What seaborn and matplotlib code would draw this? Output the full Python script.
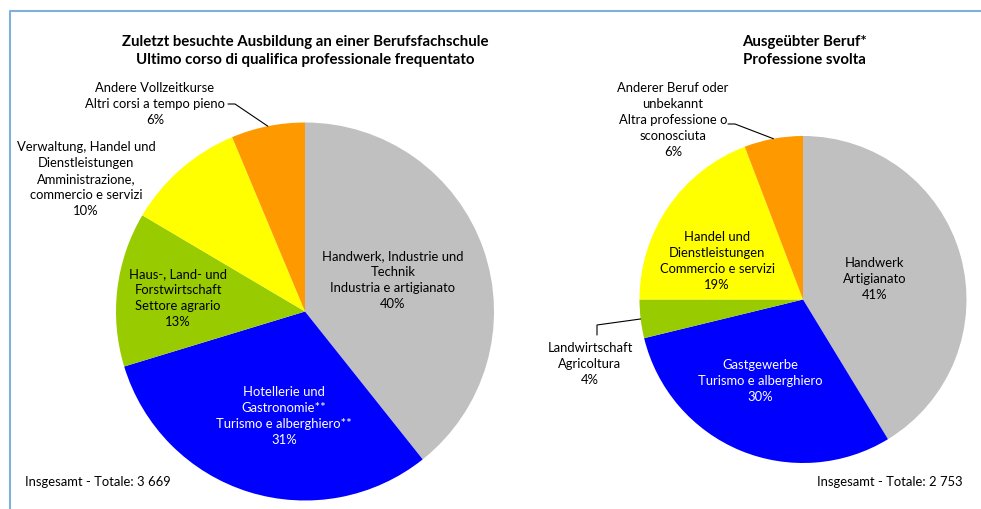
import numpy as np
import matplotlib
matplotlib.use("Agg")
import matplotlib.pyplot as plt
import seaborn as sns

# ---- data ----
left_title = "Zuletzt besuchte Ausbildung an einer Berufsfachschule\nUltimo corso di qualifica professionale frequentato"
left_labels = ["Handwerk, Industrie und\nTechnik\nIndustria e artigianato",
               "Hotellerie und\nGastronomie**\nTurismo e alberghiero**",
               "Haus-, Land- und\nForstwirtschaft\nSettore agrario",
               "Verwaltung, Handel und\nDienstleistungen\nAmministrazione,\ncommercio e servizi",
               "Andere Vollzeitkurse\nAltri corsi a tempo pieno"]
left_shares = [39.3, 31.0, 13.2, 10.2, 6.3]      # slice sizes
left_pct_text = ["40%", "31%", "13%", "10%", "6%"]  # printed labels
left_total = "Insgesamt - Totale: 3 669"

right_title = "Ausgeübter Beruf*\nProfessione svolta"
right_labels = ["Handwerk\nArtigianato",
                "Gastgewerbe\nTurismo e alberghiero",
                "Landwirtschaft\nAgricoltura",
                "Handel und\nDienstleistungen\nCommercio e servizi",
                "Anderer Beruf oder\nunbekannt\nAltra professione o\nsconosciuta"]
right_shares = [41.3, 29.9, 3.8, 19.2, 5.8]
right_pct_text = ["41%", "30%", "4%", "19%", "6%"]
right_total = "Insgesamt - Totale: 2 753"

colors = ["#c0c0c0", "#0000ff", "#99cc00", "#ffff00", "#ff9900"]

sns.set_theme(style="white")
plt.rcParams['font.family'] = ['Lato', 'DejaVu Sans']

W, H = 981, 509
fig = plt.figure(figsize=(W / 100, H / 100), dpi=100)
ax = fig.add_axes([0, 0, 1, 1])
ax.set_xlim(0, W)
ax.set_ylim(0, H)
ax.set_aspect('equal')
ax.axis('off')

def Y(ypx):
    return H - ypx

# frame lines
frame_c = "#7fb0dc"
ax.plot([9.5, 9.5, W], [0, Y(11), Y(11)], color=frame_c, lw=1.5, solid_capstyle='butt')

FS = 9.4
TFS = 10.8

def draw_pie(values, cx, cy, r):
    ax.pie(values, colors=colors, startangle=90, counterclock=False,
           center=(cx, Y(cy)), radius=r, wedgeprops=dict(linewidth=0),
           frame=True)
    ax.set_xlim(0, W)
    ax.set_ylim(0, H)
    ax.axis('off')

def edge_point(values, idx, cx, cy, r):
    total = sum(values)
    mid = (sum(values[:idx]) + values[idx] / 2) / total
    a = np.deg2rad(mid * 360)
    return cx + r * np.sin(a), cy - r * np.cos(a)  # pixel coords

def lab(x, y, s, color="black", bold=False, fs=FS, ha="center", ls=1.42):
    ax.text(x, Y(y), s, ha=ha, va="center", fontsize=fs, color=color,
            fontweight="bold" if bold else "normal", linespacing=ls)

def pct(lbl, p):
    return f"{lbl}\n{p}"

# left pie
lcx, lcy, lr = 305, 311.5, 189
draw_pie(left_shares, lcx, lcy, lr)
lab(305, 51, left_title, bold=True, fs=TFS, ls=1.35)
lab(393, 280, pct(left_labels[0], left_pct_text[0]))
lab(284, 416, pct(left_labels[1], left_pct_text[1]), color="white")
lab(178, 298, pct(left_labels[2], left_pct_text[2]))
lab(86, 179, pct(left_labels[3], left_pct_text[3]))
lab(155, 104, pct(left_labels[4], left_pct_text[4]))
ex, ey = edge_point(left_shares, 4, lcx, lcy, lr)
ax.plot([228, 235, ex], [Y(104), Y(104), Y(ey)], color="black", lw=0.8)
lab(25, 482, left_total, ha="left")

# right pie
rcx, rcy, rr = 803, 299.5, 163.5
draw_pie(right_shares, rcx, rcy, rr)
lab(804, 51, right_title, bold=True, fs=TFS, ls=1.35)
lab(875, 279, pct(right_labels[0], right_pct_text[0]))
lab(760, 381, pct(right_labels[1], right_pct_text[1]), color="white")
lab(590, 364, pct(right_labels[2], right_pct_text[2]))
lab(717, 261, pct(right_labels[3], right_pct_text[3]))
lab(673, 120, pct(right_labels[4], right_pct_text[4]))
ex, ey = edge_point(right_shares, 4, rcx, rcy, rr)
ax.plot([728, 735, ex], [Y(124), Y(124), Y(ey)], color="black", lw=0.8)
ex, ey = edge_point(right_shares, 2, rcx, rcy, rr)
ax.plot([597, 597, ex], [Y(335), Y(325), Y(ey)], color="black", lw=0.8)
lab(817, 482, right_total, ha="left")

fig.savefig("out.png", dpi=100)
